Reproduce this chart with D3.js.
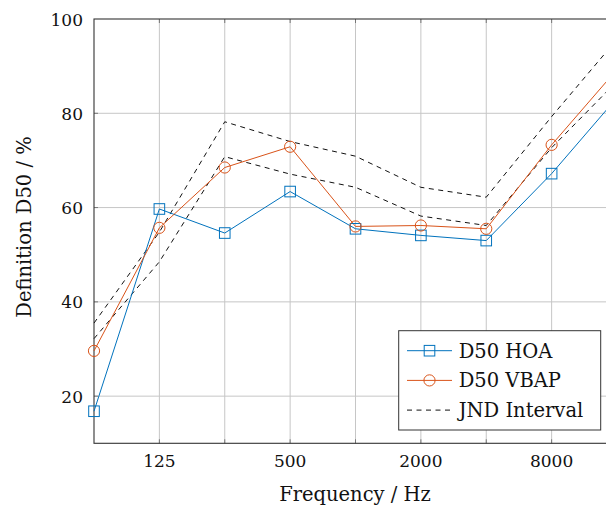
<!DOCTYPE html>
<html>
<head>
<meta charset="utf-8">
<script src="https://cdn.jsdelivr.net/npm/d3@7"></script>
<style>
  body { margin: 0; background: #fff; }
  svg text { font-family: "DejaVu Serif", "Liberation Serif", serif; fill: #111; }
</style>
</head>
<body>
<svg id="chart"></svg>
<script>
// octave band centre frequencies
var freqs = [62.5, 125, 250, 500, 1000, 2000, 4000, 8000, 16000];
var tickFreqs = [125, 500, 2000, 8000];
var yTicks = [20, 40, 60, 80, 100];

// D50 values in %
var hoa = [16.8, 59.7, 54.6, 63.4, 55.5, 54.1, 53.0, 67.2, 83.3];
var vbap = [29.6, 55.7, 68.5, 72.9, 56.0, 56.2, 55.5, 73.3, 89.3];
var jndUpper = [35.5, 54.8, 78.2, 74.0, 70.9, 64.3, 62.2, 79.3, 95.7];
var jndLower = [32.2, 48.5, 70.8, 67.1, 64.3, 58.2, 56.2, 72.7, 86.8];

var width = 606, height = 505;
// plot box (right side runs past the picture, like the reference)
var pLeft = 94, pRight = 617, pTop = 19, pBottom = 443.3;
var fsTick = 17, fsText = 19.5;

var svg = d3.select('#chart')
  .attr('width', width)
  .attr('height', height);

var x = d3.scaleLog().base(2)
  .domain([62.5, 16000])
  .range([pLeft, pRight]);

var y = d3.scaleLinear()
  .domain([10, 100])
  .range([pBottom, pTop]);

var blue = '#0072BD', orange = '#D95319';

// grid
var grid = svg.append('g');
grid.selectAll('.vg').data(freqs.slice(1, -1)).enter().append('line')
  .attr('x1', function(d) { return x(d); })
  .attr('x2', function(d) { return x(d); })
  .attr('y1', pTop).attr('y2', pBottom)
  .attr('stroke', '#c6c6c6').attr('stroke-width', 1);
grid.selectAll('.hg').data(yTicks.slice(0, -1)).enter().append('line')
  .attr('x1', pLeft).attr('x2', pRight)
  .attr('y1', function(d) { return y(d); })
  .attr('y2', function(d) { return y(d); })
  .attr('stroke', '#c6c6c6').attr('stroke-width', 1);

// small inward ticks
var ticks = svg.append('g').attr('stroke', '#777').attr('stroke-width', 1);
freqs.slice(1, -1).forEach(function(f) {
  ticks.append('line').attr('x1', x(f)).attr('x2', x(f)).attr('y1', pBottom).attr('y2', pBottom - 4);
  ticks.append('line').attr('x1', x(f)).attr('x2', x(f)).attr('y1', pTop).attr('y2', pTop + 4);
});
yTicks.slice(0, -1).forEach(function(v) {
  ticks.append('line').attr('x1', pLeft).attr('x2', pLeft + 4).attr('y1', y(v)).attr('y2', y(v));
});

// axis frame
svg.append('rect')
  .attr('x', pLeft).attr('y', pTop)
  .attr('width', pRight - pLeft).attr('height', pBottom - pTop)
  .attr('fill', 'none').attr('stroke', '#333').attr('stroke-width', 1.1);

// tick labels
svg.append('g').selectAll('text').data(tickFreqs).enter().append('text')
  .attr('x', function(d) { return x(d); })
  .attr('y', 467)
  .attr('text-anchor', 'middle')
  .attr('font-size', fsTick)
  .text(function(d) { return d; });

svg.append('g').selectAll('text').data(yTicks).enter().append('text')
  .attr('x', 83)
  .attr('y', function(d) { return y(d) + 6.5; })
  .attr('text-anchor', 'end')
  .attr('font-size', fsTick)
  .text(function(d) { return d; });

// axis titles
svg.append('text')
  .attr('x', 355).attr('y', 501)
  .attr('text-anchor', 'middle')
  .attr('font-size', fsText)
  .text('Frequency / Hz');

svg.append('text')
  .attr('transform', 'translate(31,227) rotate(-90)')
  .attr('text-anchor', 'middle')
  .attr('font-size', fsText)
  .text('Definition D50 / %');

// lines
var line = d3.line()
  .x(function(d, i) { return x(freqs[i]); })
  .y(function(d) { return y(d); });

[jndUpper, jndLower].forEach(function(s) {
  svg.append('path').datum(s)
    .attr('d', line)
    .attr('fill', 'none')
    .attr('stroke', '#111')
    .attr('stroke-width', 1)
    .attr('stroke-dasharray', '5,4.5');
});

svg.append('path').datum(hoa)
  .attr('d', line).attr('fill', 'none')
  .attr('stroke', blue).attr('stroke-width', 1);
svg.append('path').datum(vbap)
  .attr('d', line).attr('fill', 'none')
  .attr('stroke', orange).attr('stroke-width', 1);

// markers
svg.append('g').selectAll('rect').data(hoa).enter().append('rect')
  .attr('x', function(d, i) { return x(freqs[i]) - 5.3; })
  .attr('y', function(d) { return y(d) - 5.3; })
  .attr('width', 10.6).attr('height', 10.6)
  .attr('fill', 'none').attr('stroke', blue).attr('stroke-width', 1);

svg.append('g').selectAll('circle').data(vbap).enter().append('circle')
  .attr('cx', function(d, i) { return x(freqs[i]); })
  .attr('cy', function(d) { return y(d); })
  .attr('r', 5.6)
  .attr('fill', 'none').attr('stroke', orange).attr('stroke-width', 1);

// legend
var lg = svg.append('g');
lg.append('rect')
  .attr('x', 398.7).attr('y', 330.7)
  .attr('width', 202).attr('height', 99.3)
  .attr('fill', '#fff').attr('stroke', '#333').attr('stroke-width', 1);

var items = [
  { name: 'D50 HOA', color: blue, mark: 'square', dash: null },
  { name: 'D50 VBAP', color: orange, mark: 'circle', dash: null },
  { name: 'JND Interval', color: '#111', mark: null, dash: '5,4.5' }
];
items.forEach(function(it, i) {
  var cy = 350.7 + i * 29.7;
  lg.append('line')
    .attr('x1', 407).attr('x2', 452)
    .attr('y1', cy).attr('y2', cy)
    .attr('stroke', it.color).attr('stroke-width', 1)
    .attr('stroke-dasharray', it.dash);
  if (it.mark === 'square') {
    lg.append('rect')
      .attr('x', 429.5 - 5.3).attr('y', cy - 5.3)
      .attr('width', 10.6).attr('height', 10.6)
      .attr('fill', 'none').attr('stroke', it.color);
  } else if (it.mark === 'circle') {
    lg.append('circle')
      .attr('cx', 429.5).attr('cy', cy).attr('r', 5.6)
      .attr('fill', 'none').attr('stroke', it.color);
  }
  lg.append('text')
    .attr('x', 458.7).attr('y', cy + 7)
    .attr('font-size', fsText)
    .text(it.name);
});
</script>
</body>
</html>
